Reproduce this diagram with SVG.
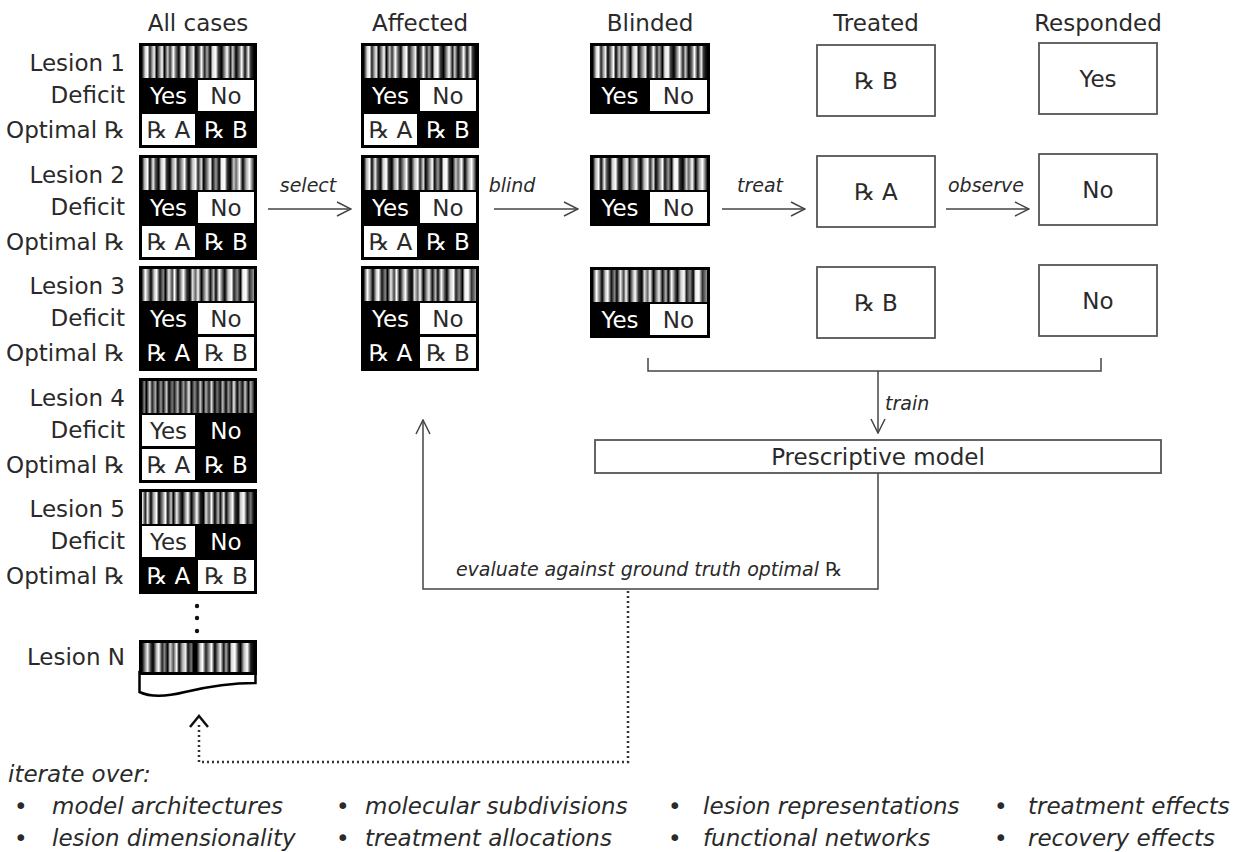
<svg xmlns="http://www.w3.org/2000/svg" width="1248" height="852" viewBox="0 0 1248 852">
<style>
text{font-family:"DejaVu Sans","Liberation Sans",sans-serif;fill:#2a2a2a}
.hd{font-size:23px;text-anchor:middle}
.lb{font-size:23px;text-anchor:end}
.c{font-size:23px;text-anchor:middle}
.w{fill:#fff}
.it{font-style:italic;font-size:19px}
.li{font-style:italic;font-size:23px}
.box{fill:#fff;stroke:#555;stroke-width:1.8}
.blk{fill:#000}
.wc{fill:#fff}
.ln{fill:none;stroke:#444;stroke-width:1.5}
.dot{fill:none;stroke:#333;stroke-width:2.5;stroke-dasharray:2 3}
</style>
<defs>
<marker id="ah" viewBox="0 0 16 16" refX="15" refY="8" markerWidth="16" markerHeight="16" markerUnits="userSpaceOnUse" orient="auto">
<path d="M1,1 L15,8 L1,15" fill="none" stroke="#444" stroke-width="1.5"/>
</marker>
<linearGradient id="b1">
<stop offset="0" stop-color="#111"/><stop offset=".03" stop-color="#ddd"/><stop offset=".05" stop-color="#fff"/><stop offset=".07" stop-color="#222"/><stop offset=".09" stop-color="#999"/><stop offset=".11" stop-color="#eee"/><stop offset=".13" stop-color="#000"/><stop offset=".15" stop-color="#666"/><stop offset=".18" stop-color="#fff"/><stop offset=".2" stop-color="#000"/><stop offset=".23" stop-color="#ccc"/><stop offset=".25" stop-color="#333"/><stop offset=".28" stop-color="#fff"/><stop offset=".3" stop-color="#777"/><stop offset=".33" stop-color="#000"/><stop offset=".35" stop-color="#bbb"/><stop offset=".38" stop-color="#fff"/><stop offset=".4" stop-color="#111"/><stop offset=".43" stop-color="#888"/><stop offset=".46" stop-color="#eee"/><stop offset=".48" stop-color="#000"/><stop offset=".51" stop-color="#555"/><stop offset=".53" stop-color="#fff"/><stop offset=".56" stop-color="#222"/><stop offset=".58" stop-color="#aaa"/><stop offset=".61" stop-color="#000"/><stop offset=".63" stop-color="#ddd"/><stop offset=".66" stop-color="#fff"/><stop offset=".68" stop-color="#444"/><stop offset=".71" stop-color="#000"/><stop offset=".74" stop-color="#999"/><stop offset=".76" stop-color="#fff"/><stop offset=".79" stop-color="#222"/><stop offset=".81" stop-color="#ccc"/><stop offset=".84" stop-color="#000"/><stop offset=".87" stop-color="#777"/><stop offset=".89" stop-color="#fff"/><stop offset=".92" stop-color="#111"/><stop offset=".95" stop-color="#eee"/><stop offset=".97" stop-color="#333"/><stop offset="1" stop-color="#000"/>
</linearGradient>
<linearGradient id="b2">
<stop offset="0" stop-color="#000"/><stop offset=".02" stop-color="#aaa"/><stop offset=".05" stop-color="#fff"/><stop offset=".07" stop-color="#000"/><stop offset=".1" stop-color="#eee"/><stop offset=".12" stop-color="#555"/><stop offset=".15" stop-color="#000"/><stop offset=".17" stop-color="#ccc"/><stop offset=".2" stop-color="#fff"/><stop offset=".22" stop-color="#333"/><stop offset=".25" stop-color="#000"/><stop offset=".27" stop-color="#999"/><stop offset=".3" stop-color="#eee"/><stop offset=".32" stop-color="#111"/><stop offset=".35" stop-color="#888"/><stop offset=".38" stop-color="#fff"/><stop offset=".4" stop-color="#444"/><stop offset=".42" stop-color="#000"/><stop offset=".45" stop-color="#bbb"/><stop offset=".48" stop-color="#fff"/><stop offset=".5" stop-color="#222"/><stop offset=".53" stop-color="#ddd"/><stop offset=".55" stop-color="#000"/><stop offset=".58" stop-color="#777"/><stop offset=".61" stop-color="#fff"/><stop offset=".63" stop-color="#111"/><stop offset=".66" stop-color="#999"/><stop offset=".69" stop-color="#000"/><stop offset=".71" stop-color="#eee"/><stop offset=".74" stop-color="#fff"/><stop offset=".76" stop-color="#333"/><stop offset=".79" stop-color="#000"/><stop offset=".82" stop-color="#ccc"/><stop offset=".84" stop-color="#666"/><stop offset=".87" stop-color="#fff"/><stop offset=".9" stop-color="#000"/><stop offset=".93" stop-color="#aaa"/><stop offset=".96" stop-color="#fff"/><stop offset="1" stop-color="#222"/>
</linearGradient>
<linearGradient id="b3">
<stop offset="0" stop-color="#222"/><stop offset=".03" stop-color="#fff"/><stop offset=".06" stop-color="#777"/><stop offset=".08" stop-color="#000"/><stop offset=".11" stop-color="#ccc"/><stop offset=".13" stop-color="#fff"/><stop offset=".16" stop-color="#111"/><stop offset=".19" stop-color="#888"/><stop offset=".21" stop-color="#000"/><stop offset=".24" stop-color="#eee"/><stop offset=".27" stop-color="#444"/><stop offset=".29" stop-color="#fff"/><stop offset=".32" stop-color="#000"/><stop offset=".35" stop-color="#aaa"/><stop offset=".37" stop-color="#fff"/><stop offset=".4" stop-color="#333"/><stop offset=".43" stop-color="#000"/><stop offset=".45" stop-color="#ddd"/><stop offset=".48" stop-color="#666"/><stop offset=".5" stop-color="#fff"/><stop offset=".53" stop-color="#000"/><stop offset=".56" stop-color="#999"/><stop offset=".58" stop-color="#eee"/><stop offset=".61" stop-color="#111"/><stop offset=".64" stop-color="#bbb"/><stop offset=".66" stop-color="#000"/><stop offset=".69" stop-color="#fff"/><stop offset=".72" stop-color="#555"/><stop offset=".74" stop-color="#000"/><stop offset=".77" stop-color="#ccc"/><stop offset=".8" stop-color="#fff"/><stop offset=".82" stop-color="#222"/><stop offset=".85" stop-color="#888"/><stop offset=".88" stop-color="#000"/><stop offset=".9" stop-color="#eee"/><stop offset=".93" stop-color="#fff"/><stop offset=".96" stop-color="#333"/><stop offset="1" stop-color="#999"/>
</linearGradient>
<linearGradient id="b4">
<stop offset="0" stop-color="#000"/><stop offset=".02" stop-color="#888"/><stop offset=".04" stop-color="#000"/><stop offset=".07" stop-color="#ddd"/><stop offset=".09" stop-color="#222"/><stop offset=".12" stop-color="#aaa"/><stop offset=".14" stop-color="#000"/><stop offset=".17" stop-color="#999"/><stop offset=".19" stop-color="#111"/><stop offset=".22" stop-color="#ccc"/><stop offset=".24" stop-color="#000"/><stop offset=".27" stop-color="#777"/><stop offset=".29" stop-color="#222"/><stop offset=".32" stop-color="#bbb"/><stop offset=".34" stop-color="#000"/><stop offset=".37" stop-color="#999"/><stop offset=".39" stop-color="#333"/><stop offset=".42" stop-color="#eee"/><stop offset=".44" stop-color="#000"/><stop offset=".47" stop-color="#888"/><stop offset=".5" stop-color="#111"/><stop offset=".52" stop-color="#ccc"/><stop offset=".55" stop-color="#000"/><stop offset=".57" stop-color="#aaa"/><stop offset=".6" stop-color="#222"/><stop offset=".62" stop-color="#ddd"/><stop offset=".65" stop-color="#000"/><stop offset=".67" stop-color="#777"/><stop offset=".7" stop-color="#111"/><stop offset=".72" stop-color="#bbb"/><stop offset=".75" stop-color="#000"/><stop offset=".77" stop-color="#999"/><stop offset=".8" stop-color="#222"/><stop offset=".82" stop-color="#eee"/><stop offset=".85" stop-color="#000"/><stop offset=".87" stop-color="#888"/><stop offset=".9" stop-color="#111"/><stop offset=".92" stop-color="#ccc"/><stop offset=".95" stop-color="#000"/><stop offset=".97" stop-color="#aaa"/><stop offset="1" stop-color="#222"/>
</linearGradient>
<linearGradient id="b5">
<stop offset="0" stop-color="#fff"/><stop offset=".03" stop-color="#222"/><stop offset=".05" stop-color="#eee"/><stop offset=".08" stop-color="#000"/><stop offset=".1" stop-color="#999"/><stop offset=".13" stop-color="#fff"/><stop offset=".15" stop-color="#000"/><stop offset=".18" stop-color="#777"/><stop offset=".21" stop-color="#fff"/><stop offset=".23" stop-color="#111"/><stop offset=".26" stop-color="#ccc"/><stop offset=".28" stop-color="#000"/><stop offset=".31" stop-color="#eee"/><stop offset=".34" stop-color="#444"/><stop offset=".36" stop-color="#000"/><stop offset=".39" stop-color="#aaa"/><stop offset=".41" stop-color="#fff"/><stop offset=".44" stop-color="#000"/><stop offset=".47" stop-color="#888"/><stop offset=".49" stop-color="#fff"/><stop offset=".52" stop-color="#222"/><stop offset=".55" stop-color="#000"/><stop offset=".57" stop-color="#ddd"/><stop offset=".6" stop-color="#555"/><stop offset=".62" stop-color="#fff"/><stop offset=".65" stop-color="#000"/><stop offset=".68" stop-color="#bbb"/><stop offset=".7" stop-color="#111"/><stop offset=".73" stop-color="#eee"/><stop offset=".75" stop-color="#000"/><stop offset=".78" stop-color="#999"/><stop offset=".81" stop-color="#fff"/><stop offset=".83" stop-color="#333"/><stop offset=".86" stop-color="#000"/><stop offset=".88" stop-color="#ccc"/><stop offset=".91" stop-color="#fff"/><stop offset=".94" stop-color="#111"/><stop offset=".97" stop-color="#777"/><stop offset="1" stop-color="#000"/>
</linearGradient>
<linearGradient id="bN">
<stop offset="0" stop-color="#000"/><stop offset=".03" stop-color="#999"/><stop offset=".05" stop-color="#eee"/><stop offset=".08" stop-color="#333"/><stop offset=".1" stop-color="#000"/><stop offset=".13" stop-color="#bbb"/><stop offset=".15" stop-color="#fff"/><stop offset=".18" stop-color="#222"/><stop offset=".2" stop-color="#888"/><stop offset=".23" stop-color="#000"/><stop offset=".25" stop-color="#ddd"/><stop offset=".28" stop-color="#555"/><stop offset=".31" stop-color="#fff"/><stop offset=".33" stop-color="#000"/><stop offset=".36" stop-color="#aaa"/><stop offset=".39" stop-color="#eee"/><stop offset=".41" stop-color="#111"/><stop offset=".44" stop-color="#777"/><stop offset=".46" stop-color="#000"/><stop offset=".49" stop-color="#000"/><stop offset=".52" stop-color="#ccc"/><stop offset=".54" stop-color="#fff"/><stop offset=".57" stop-color="#222"/><stop offset=".6" stop-color="#999"/><stop offset=".62" stop-color="#fff"/><stop offset=".65" stop-color="#000"/><stop offset=".67" stop-color="#666"/><stop offset=".7" stop-color="#eee"/><stop offset=".73" stop-color="#111"/><stop offset=".75" stop-color="#aaa"/><stop offset=".78" stop-color="#000"/><stop offset=".8" stop-color="#ddd"/><stop offset=".83" stop-color="#fff"/><stop offset=".86" stop-color="#333"/><stop offset=".88" stop-color="#000"/><stop offset=".91" stop-color="#bbb"/><stop offset=".94" stop-color="#fff"/><stop offset=".97" stop-color="#222"/><stop offset="1" stop-color="#000"/>
</linearGradient>
</defs>
<rect width="1248" height="852" fill="#fff"/>

<g id="headers">
<text class="hd" x="198" y="31">All cases</text>
<text class="hd" x="420" y="31">Affected</text>
<text class="hd" x="650" y="31">Blinded</text>
<text class="hd" x="876" y="31">Treated</text>
<text class="hd" x="1098" y="31">Responded</text>
</g>

<g id="lesion1">
<text class="lb" x="125" y="71">Lesion 1</text>
<text class="lb" x="125" y="103">Deficit</text>
<text class="lb" x="125" y="138">Optimal ℞</text>
<rect class="blk" x="139" y="43" width="118" height="105"/>
<rect x="142" y="46" width="112" height="32" fill="url(#b1)"/>
<rect class="wc" x="198" y="80" width="56" height="31"/>
<rect class="wc" x="142" y="114" width="53" height="31"/>
<text class="c w" x="168.5" y="104">Yes</text>
<text class="c" x="226" y="104">No</text>
<text class="c" x="168.5" y="138">℞ A</text>
<text class="c w" x="226" y="138">℞ B</text>
</g>

<g id="lesion2">
<text class="lb" x="125" y="183">Lesion 2</text>
<text class="lb" x="125" y="215">Deficit</text>
<text class="lb" x="125" y="250">Optimal ℞</text>
<rect class="blk" x="139" y="155" width="118" height="105"/>
<rect x="142" y="158" width="112" height="32" fill="url(#b2)"/>
<rect class="wc" x="198" y="192" width="56" height="31"/>
<rect class="wc" x="142" y="226" width="53" height="31"/>
<text class="c w" x="168.5" y="216">Yes</text>
<text class="c" x="226" y="216">No</text>
<text class="c" x="168.5" y="250">℞ A</text>
<text class="c w" x="226" y="250">℞ B</text>
</g>

<g id="lesion3">
<text class="lb" x="125" y="294">Lesion 3</text>
<text class="lb" x="125" y="326">Deficit</text>
<text class="lb" x="125" y="361">Optimal ℞</text>
<rect class="blk" x="139" y="266" width="118" height="105"/>
<rect x="142" y="269" width="112" height="32" fill="url(#b3)"/>
<rect class="wc" x="198" y="303" width="56" height="31"/>
<rect class="wc" x="198" y="337" width="56" height="31"/>
<text class="c w" x="168.5" y="327">Yes</text>
<text class="c" x="226" y="327">No</text>
<text class="c w" x="168.5" y="361">℞ A</text>
<text class="c" x="226" y="361">℞ B</text>
</g>

<g id="lesion4">
<text class="lb" x="125" y="406">Lesion 4</text>
<text class="lb" x="125" y="438">Deficit</text>
<text class="lb" x="125" y="473">Optimal ℞</text>
<rect class="blk" x="139" y="378" width="118" height="105"/>
<rect x="142" y="381" width="112" height="32" fill="url(#b4)"/>
<rect class="wc" x="142" y="415" width="53" height="31"/>
<rect class="wc" x="142" y="449" width="53" height="31"/>
<text class="c" x="168.5" y="439">Yes</text>
<text class="c w" x="226" y="439">No</text>
<text class="c" x="168.5" y="473">℞ A</text>
<text class="c w" x="226" y="473">℞ B</text>
</g>

<g id="lesion5">
<text class="lb" x="125" y="517">Lesion 5</text>
<text class="lb" x="125" y="549">Deficit</text>
<text class="lb" x="125" y="584">Optimal ℞</text>
<rect class="blk" x="139" y="489" width="118" height="105"/>
<rect x="142" y="492" width="112" height="32" fill="url(#b5)"/>
<rect class="wc" x="142" y="526" width="53" height="31"/>
<rect class="wc" x="198" y="560" width="56" height="31"/>
<text class="c" x="168.5" y="550">Yes</text>
<text class="c w" x="226" y="550">No</text>
<text class="c w" x="168.5" y="584">℞ A</text>
<text class="c" x="226" y="584">℞ B</text>
</g>

<g id="ellipsis">
<circle cx="197" cy="606" r="2.2" fill="#111"/>
<circle cx="197" cy="618" r="2.2" fill="#111"/>
<circle cx="197" cy="631" r="2.2" fill="#111"/>
</g>

<g id="lesionN">
<text class="lb" x="125" y="665">Lesion N</text>
<path d="M139.5,672 V692 C150,697 165,697 185,692 C210,686 235,683 255.5,683 V672 Z" fill="#fff" stroke="#000" stroke-width="2.5"/>
<rect class="blk" x="139" y="640" width="118" height="35"/>
<rect x="142" y="643" width="112" height="29" fill="url(#bN)"/>
</g>

<g id="affected1">
<rect class="blk" x="361" y="43" width="118" height="105"/>
<rect x="364" y="46" width="112" height="32" fill="url(#b1)"/>
<rect class="wc" x="420" y="80" width="56" height="31"/>
<rect class="wc" x="364" y="114" width="53" height="31"/>
<text class="c w" x="390.5" y="104">Yes</text>
<text class="c" x="448" y="104">No</text>
<text class="c" x="390.5" y="138">℞ A</text>
<text class="c w" x="448" y="138">℞ B</text>
</g>
<g id="affected2">
<rect class="blk" x="361" y="155" width="118" height="105"/>
<rect x="364" y="158" width="112" height="32" fill="url(#b2)"/>
<rect class="wc" x="420" y="192" width="56" height="31"/>
<rect class="wc" x="364" y="226" width="53" height="31"/>
<text class="c w" x="390.5" y="216">Yes</text>
<text class="c" x="448" y="216">No</text>
<text class="c" x="390.5" y="250">℞ A</text>
<text class="c w" x="448" y="250">℞ B</text>
</g>
<g id="affected3">
<rect class="blk" x="361" y="266" width="118" height="105"/>
<rect x="364" y="269" width="112" height="32" fill="url(#b3)"/>
<rect class="wc" x="420" y="303" width="56" height="31"/>
<rect class="wc" x="420" y="337" width="56" height="31"/>
<text class="c w" x="390.5" y="327">Yes</text>
<text class="c" x="448" y="327">No</text>
<text class="c w" x="390.5" y="361">℞ A</text>
<text class="c" x="448" y="361">℞ B</text>
</g>

<g id="blinded1">
<rect class="blk" x="590" y="43" width="120" height="71"/>
<rect x="593" y="46" width="114" height="32" fill="url(#b1)"/>
<rect class="wc" x="650" y="80" width="57" height="31"/>
<text class="c w" x="620" y="104">Yes</text>
<text class="c" x="678.5" y="104">No</text>
</g>
<g id="blinded2">
<rect class="blk" x="590" y="155" width="120" height="71"/>
<rect x="593" y="158" width="114" height="32" fill="url(#b2)"/>
<rect class="wc" x="650" y="192" width="57" height="31"/>
<text class="c w" x="620" y="216">Yes</text>
<text class="c" x="678.5" y="216">No</text>
</g>
<g id="blinded3">
<rect class="blk" x="590" y="267" width="120" height="71"/>
<rect x="593" y="270" width="114" height="32" fill="url(#b3)"/>
<rect class="wc" x="650" y="304" width="57" height="31"/>
<text class="c w" x="620" y="328">Yes</text>
<text class="c" x="678.5" y="328">No</text>
</g>

<g id="treated1"><rect class="box" x="817" y="45" width="118" height="71"/><text class="c" x="876" y="89">℞ B</text></g>
<g id="treated2"><rect class="box" x="817" y="156" width="118" height="71"/><text class="c" x="876" y="200">℞ A</text></g>
<g id="treated3"><rect class="box" x="817" y="267" width="118" height="71"/><text class="c" x="876" y="311">℞ B</text></g>

<g id="responded1"><rect class="box" x="1039" y="43" width="118" height="71"/><text class="c" x="1098" y="87">Yes</text></g>
<g id="responded2"><rect class="box" x="1039" y="154" width="118" height="71"/><text class="c" x="1098" y="198">No</text></g>
<g id="responded3"><rect class="box" x="1039" y="265" width="118" height="71"/><text class="c" x="1098" y="309">No</text></g>

<g id="model"><rect class="box" x="595" y="440" width="566" height="33"/><text class="c" x="878" y="465">Prescriptive model</text></g>

<g id="connectors">
<line class="ln" x1="268" y1="209" x2="351" y2="209" marker-end="url(#ah)"/>
<text class="it" x="308" y="192" text-anchor="middle">select</text>
<line class="ln" x1="494" y1="209" x2="578" y2="209" marker-end="url(#ah)"/>
<text class="it" x="512" y="192" text-anchor="middle">blind</text>
<line class="ln" x1="722" y1="209" x2="805" y2="209" marker-end="url(#ah)"/>
<text class="it" x="760" y="192" text-anchor="middle">treat</text>
<line class="ln" x1="946" y1="209" x2="1029" y2="209" marker-end="url(#ah)"/>
<text class="it" x="986" y="192" text-anchor="middle">observe</text>
<path class="ln" d="M648,358 V371 H1101 V358"/>
<line class="ln" x1="878" y1="371" x2="878" y2="433" marker-end="url(#ah)"/>
<text class="it" x="885" y="410">train</text>
<path class="ln" d="M878,473 V589 H423 V420" marker-end="url(#ah)"/>
<text class="it" x="649" y="576" text-anchor="middle" font-size="18.5">evaluate against ground truth optimal ℞</text>
<path class="dot" d="M628,591 V762 H199 V722"/>
<path d="M190,727 L199,716 L208,727" fill="none" stroke="#111" stroke-width="2.5"/>
</g>

<g id="iterate">
<text class="li" x="8" y="782">iterate over:</text>
<text class="li" x="14" y="814">•</text><text class="li" x="52" y="814">model architectures</text>
<text class="li" x="336" y="814">•</text><text class="li" x="365" y="814">molecular subdivisions</text>
<text class="li" x="668" y="814">•</text><text class="li" x="703" y="814">lesion representations</text>
<text class="li" x="994" y="814">•</text><text class="li" x="1028" y="814">treatment effects</text>
<text class="li" x="14" y="846">•</text><text class="li" x="52" y="846">lesion dimensionality</text>
<text class="li" x="336" y="846">•</text><text class="li" x="365" y="846">treatment allocations</text>
<text class="li" x="668" y="846">•</text><text class="li" x="703" y="846">functional networks</text>
<text class="li" x="994" y="846">•</text><text class="li" x="1028" y="846">recovery effects</text>
</g>
</svg>
